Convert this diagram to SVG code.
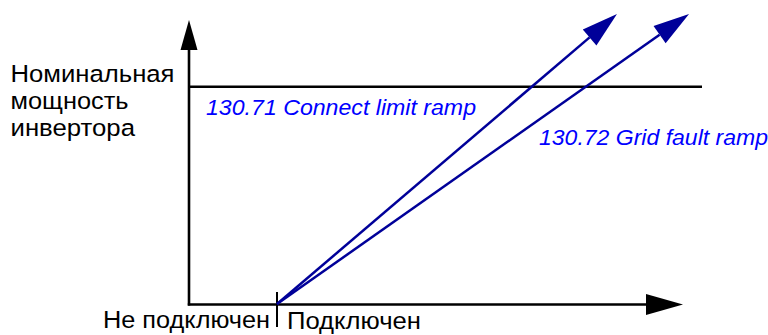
<svg xmlns="http://www.w3.org/2000/svg" width="768" height="335" viewBox="0 0 768 335">
  <style>
    .axis { stroke: #000; stroke-width: 2.6; fill: none; }
    .ramp { stroke: #000099; stroke-width: 2.5; fill: none; }
    .lbl { font-family: "Liberation Sans", Arial, sans-serif; font-size: 24.5px; fill: #000; }
    .par { font-family: "Liberation Sans", Arial, sans-serif; font-size: 22px; font-style: italic; fill: #0000ff; }
  </style>
  <defs>
    <marker id="head-y" markerUnits="userSpaceOnUse" orient="auto" refX="0" refY="0" markerWidth="32" markerHeight="20" viewBox="0 -10 32 20" overflow="visible">
      <path d="M0,-8.5 L30,0 L0,8.5 Z" fill="#000"/>
    </marker>
    <marker id="head-x" markerUnits="userSpaceOnUse" orient="auto" refX="0" refY="0" markerWidth="38" markerHeight="22" viewBox="0 -11 38 22" overflow="visible">
      <path d="M0,-10.5 L37,0 L0,10.5 Z" fill="#000"/>
    </marker>
    <marker id="head-ramp" markerUnits="userSpaceOnUse" orient="auto" refX="0" refY="0" markerWidth="38" markerHeight="22" viewBox="0 -11 38 22" overflow="visible">
      <path d="M0,-10.5 L36,0 L0,10.5 Z" fill="#000099"/>
    </marker>
  </defs>

  <!-- axes, rated-power level and connection tick -->
  <g id="axes">
    <line class="axis" x1="189" y1="305.5" x2="189" y2="50" marker-end="url(#head-y)"/>
    <line class="axis" x1="187.8" y1="304.5" x2="646" y2="304.5" marker-end="url(#head-x)"/>
    <line class="axis" x1="189" y1="86.7" x2="702" y2="86.7"/>
    <line stroke="#000" stroke-width="2" x1="277" y1="292" x2="277" y2="327"/>
  </g>

  <!-- ramp connectors -->
  <g id="connectors">
    <line id="ramp-connect" class="ramp" x1="277" y1="304" x2="589.6" y2="37.4" marker-end="url(#head-ramp)"/>
    <line id="ramp-gridfault" class="ramp" x1="277" y1="304" x2="659.6" y2="34.7" marker-end="url(#head-ramp)"/>
  </g>

  <g id="label-rated">
    <text class="lbl" x="10.5" y="81.5" textLength="164" lengthAdjust="spacingAndGlyphs">Номинальная</text>
    <text class="lbl" x="10.5" y="108.8" textLength="118" lengthAdjust="spacingAndGlyphs">мощность</text>
    <text class="lbl" x="10.5" y="136" textLength="124.5" lengthAdjust="spacingAndGlyphs">инвертора</text>
  </g>

  <g id="label-connect-ramp">
    <text class="par" x="206" y="115" textLength="270" lengthAdjust="spacingAndGlyphs">130.71 Connect limit ramp</text>
  </g>
  <g id="label-gridfault-ramp">
    <text class="par" x="539" y="145" textLength="229" lengthAdjust="spacingAndGlyphs">130.72 Grid fault ramp</text>
  </g>

  <g id="label-disconnected">
    <text class="lbl" x="103" y="328" textLength="167" lengthAdjust="spacingAndGlyphs">Не подключен</text>
  </g>
  <g id="label-connected">
    <text class="lbl" x="287" y="328.5" textLength="134" lengthAdjust="spacingAndGlyphs">Подключен</text>
  </g>
</svg>
